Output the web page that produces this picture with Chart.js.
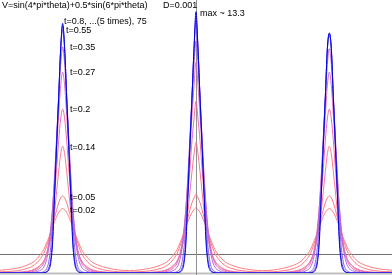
<!DOCTYPE html>
<html>
<head>
<meta charset="utf-8">
<script src="https://cdn.jsdelivr.net/npm/chart.js@4"></script>
<style>
html, body { margin: 0; padding: 0; background: #fff; }
#wrap { width: 392px; height: 275px; }
</style>
</head>
<body>
<div id="wrap"><canvas id="chart"></canvas></div>
<script>
// density p(theta, t) near the three wells
const times = ["0.02", "0.05", "0.14", "0.2", "0.27", "0.35", "0.55", "0.8", "75"];
const peakCenters = [-1, 0, 1];
// distance from a well centre (theta units)
const offsets = [0, 0.015, 0.03, 0.045, 0.06, 0.075, 0.09, 0.105, 0.12, 0.142, 0.172, 0.21, 0.26, 0.34, 0.5];

const p002 = [3.3, 3.25, 3.1, 2.9, 2.65, 2.4, 2.1, 1.8, 1.55, 1.2, 0.9, 0.62, 0.42, 0.25, 0.12];
const p005 = [3.95, 3.85, 3.6, 3.25, 2.85, 2.45, 2.05, 1.7, 1.38, 1.0, 0.68, 0.42, 0.25, 0.12, 0.05];
const p014 = [6.5, 6.1, 5.2, 4.2, 3.2, 2.4, 1.75, 1.3, 0.95, 0.62, 0.38, 0.2, 0.1, 0.04, 0.01];
const p020 = [8.4, 7.9, 6.8, 5.4, 4.1, 3.0, 2.1, 1.45, 1.0, 0.6, 0.33, 0.16, 0.07, 0.02, 0];
const p027 = [10.3, 9.6, 8.1, 6.4, 4.8, 3.4, 2.3, 1.5, 0.95, 0.5, 0.24, 0.1, 0.04, 0.01, 0];
const p035 = [11.6, 10.7, 8.9, 7.0, 5.1, 3.4, 2.1, 1.25, 0.7, 0.3, 0.12, 0.04, 0.01, 0, 0];
const p055 = [12.6, 11.4, 9.1, 6.9, 4.6, 2.6, 1.3, 0.55, 0.22, 0.07, 0.02, 0, 0, 0, 0];
const p080 = [13.0, 11.5, 9.0, 6.7, 4.2, 1.9, 0.7, 0.25, 0.08, 0.02, 0, 0, 0, 0, 0];
const p750 = [13.3, 11.5, 9.0, 6.6, 4.1, 1.6, 0.5, 0.15, 0.05, 0.01, 0, 0, 0, 0, 0];
const profiles = [p002, p005, p014, p020, p027, p035, p055, p080, p750];

// tip height at each of the three wells (left, middle, right)
const tops = [
    [3.3, 3.35, 3.3],
    [3.95, 4.05, 3.95],
    [6.5, 6.7, 6.5],
    [8.4, 8.8, 8.4],
    [10.3, 10.8, 10.3],
    [11.6, 11.9, 11.5],
    [12.5, 12.9, 12.2],
    [12.7, 13.1, 12.3],
    [12.8, 13.4, 12.3]
];

const colors = ["#ff7d7d", "#ff7884", "#f77895", "#ea70a8", "#d870c0", "#b468d8", "#8a62ea", "#5a48f0", "#0000e0"];

const labelText = ["t=0.02", "t=0.05", "t=0.14", "t=0.2", "t=0.27", "t=0.35", "t=0.55", "t=0.8, ...(5 times), 75", "max ~ 13.3"];
const labelX = [-0.945, -0.945, -0.945, -0.945, -0.945, -0.945, -0.975, -0.99, 0.03];
const labelY = [3.18, 3.85, 6.41, 8.36, 10.26, 11.54, 12.46, 12.92, 13.33];

function buildCurve(prof, top) {
    const pts = [];
    peakCenters.forEach((c, k) => {
        const start = k == 0 ? offsets.length - 1 : offsets.length - 2;
        for (let i = start; i > 0; i--) pts.push({x: c - offsets[i], y: prof[i]});
        pts.push({x: c, y: top[k]});
        for (let i = 1; i < offsets.length; i++) pts.push({x: c + offsets[i], y: prof[i]});
    });
    return pts;
}

const datasets = [];
for (let i = times.length - 1; i >= 0; i--) {
    datasets.push({
        label: "t=" + times[i],
        data: buildCurve(profiles[i], tops[i]),
        borderColor: colors[i],
        borderWidth: 1,
        pointRadius: 0,
        fill: false,
        cubicInterpolationMode: "monotone"
    });
}

const overlay = {
    id: "overlay",
    beforeDatasetsDraw(chart) {
        const ctx = chart.ctx;
        const xs = chart.scales.x, ys = chart.scales.y;
        const area = chart.chartArea;
        ctx.save();
        ctx.lineWidth = 2;
        ctx.strokeStyle = "#c0c0c0";
        ctx.beginPath();
        ctx.moveTo(area.left, ys.getPixelForValue(0) + 0.5);
        ctx.lineTo(area.right, ys.getPixelForValue(0) + 0.5);
        ctx.stroke();
        ctx.lineWidth = 1;
        ctx.strokeStyle = "#707070";
        ctx.beginPath();
        ctx.moveTo(area.left, Math.round(ys.getPixelForValue(1)) + 0.5);
        ctx.lineTo(area.right, Math.round(ys.getPixelForValue(1)) + 0.5);
        ctx.stroke();
        ctx.strokeStyle = "#909090";
        ctx.beginPath();
        ctx.moveTo(Math.round(xs.getPixelForValue(0)) + 0.5, 0);
        ctx.lineTo(Math.round(xs.getPixelForValue(0)) + 0.5, chart.height);
        ctx.stroke();
        ctx.restore();
    },
    afterDraw(chart) {
        const ctx = chart.ctx;
        const xs = chart.scales.x, ys = chart.scales.y;
        ctx.save();
        ctx.fillStyle = "#000";
        ctx.font = "9px 'Liberation Sans', Arial, sans-serif";
        ctx.textBaseline = "middle";
        ctx.fillText("V=sin(4*pi*theta)+0.5*sin(6*pi*theta)", 2, 6);
        ctx.fillText("D=0.001", 163, 6);
        for (let i = 0; i < labelText.length; i++) {
            ctx.fillText(labelText[i], xs.getPixelForValue(labelX[i]), ys.getPixelForValue(labelY[i]));
        }
        ctx.restore();
    }
};

new Chart(document.getElementById("chart"), {
    type: "line",
    data: { datasets: datasets },
    options: {
        responsive: true,
        maintainAspectRatio: false,
        animation: false,
        layout: { padding: { top: 0, bottom: 2, left: 0, right: 0 } },
        plugins: { legend: { display: false }, tooltip: { enabled: false } },
        scales: {
            x: { type: "linear", min: -1.47, max: 1.47, display: false },
            y: { min: 0, max: 14, display: false }
        }
    },
    plugins: [overlay]
});
</script>
</body>
</html>
